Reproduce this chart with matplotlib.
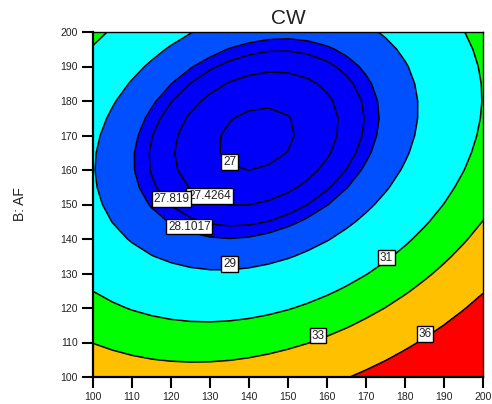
import numpy as np
import matplotlib
matplotlib.use("Agg")
import matplotlib.pyplot as plt

plt.rcParams['font.family'] = ['Liberation Sans', 'DejaVu Sans']

# Quadratic response model for CW in coded units
# A = (A_factor - 150) / 50, B = (AF - 150) / 50
# CW = b0 + bA*A + bB*B + bAB*A*B + bAA*A^2 + bBB*B^2
coef_names = ["b0", "bA", "bB", "bAB", "bAA", "bBB"]
coef_values = [27.6198, 1.6510, -3.1887, -1.5794, 3.2512, 3.8316]

x_range = [100, 200]
y_range = [100, 200]
ticks = [100, 110, 120, 130, 140, 150, 160, 170, 180, 190, 200]

contour_levels = [27, 27.4264, 27.819, 28.1017, 29, 31, 33, 36]
label_text = ["27", "27.4264", "27.819", "28.1017", "29", "31", "33", "36"]
label_spots = [(135.0, 162.3), (129.9, 152.5), (120.1, 151.6), (124.7, 143.6),
               (135.0, 132.8), (175.2, 134.6), (157.7, 112.0), (185.1, 112.5)]

band_edges = [28.1017, 29, 31, 33, 36]
band_colors = ["#0000FA", "#0050FF", "#00FFFF", "#00FF00", "#FFC000", "#FF0000"]

b0, bA, bB, bAB, bAA, bBB = coef_values

gx = np.linspace(x_range[0], x_range[1], 21)
gy = np.linspace(y_range[0], y_range[1], 21)
X, Y = np.meshgrid(gx, gy)
a = (X - 150) / 50
b = (Y - 150) / 50
Z = b0 + bA * a + bB * b + bAB * a * b + bAA * a * a + bBB * b * b

fig = plt.figure(figsize=(4.92, 4.04), dpi=100)
ax = fig.add_axes([93 / 492, 1 - 377 / 404, 390 / 492, 345 / 404])

fill_levels = [Z.min() - 1] + band_edges + [Z.max() + 1]
ax.contourf(X, Y, Z, levels=fill_levels, colors=band_colors)
cs = ax.contour(X, Y, Z, levels=contour_levels, colors="black", linewidths=1.1)

fmt = {lv: txt for lv, txt in zip(contour_levels, label_text)}
labels = ax.clabel(cs, fmt=fmt, inline=False, fontsize=8.5, manual=label_spots,
                   colors="black")
for t in labels:
    txt = t.get_text()
    i = label_text.index(txt)
    t.set_position(label_spots[i])
    t.set_rotation(0)
    t.set_ha("center")
    t.set_va("center")
    t.set_color("#222222")
    t.set_zorder(5 + (1 if txt == "27.819" else 0))
    t.set_bbox(dict(boxstyle="square,pad=0.15", facecolor="white",
                    edgecolor="black", linewidth=1.0))

ax.set_xlim(*x_range)
ax.set_ylim(*y_range)
ax.set_xticks(ticks)
ax.set_yticks(ticks)
ax.tick_params(direction="out", length=8, width=1.5, labelsize=7.5, pad=3,
               colors="black", labelcolor="#222222")
ax.tick_params(top=False, right=False)
for side in ["left", "bottom"]:
    ax.spines[side].set_linewidth(1.6)
for side in ["top", "right"]:
    ax.spines[side].set_linewidth(1.0)

ax.set_title("CW", fontsize=15, pad=6, color="#222222")
ax.set_ylabel("B: AF", fontsize=10, labelpad=24, color="#222222")

fig.savefig("out.png", dpi=100)
